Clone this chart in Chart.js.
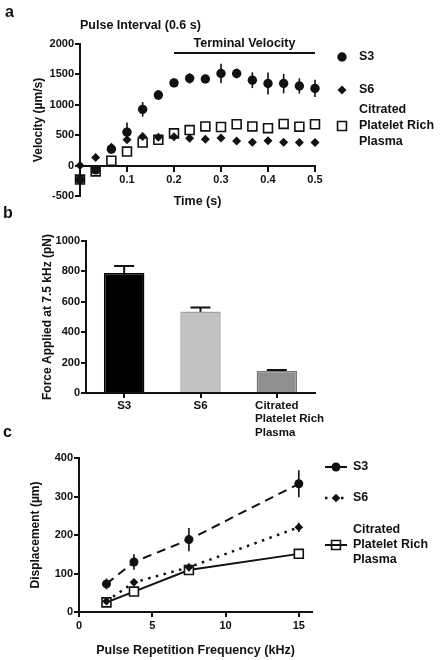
<!DOCTYPE html>
<html>
<head>
<meta charset="utf-8">
<script src="https://cdn.jsdelivr.net/npm/chart.js@4.4.0/dist/chart.umd.min.js"></script>
<style>
  html, body { margin: 0; padding: 0; background: #fff; }
  #wrap { position: relative; width: 447px; height: 660px; overflow: hidden; font-family: 'Liberation Sans', Arial, sans-serif; }
  #wrap canvas { position: absolute; left: 0; }
  .panel { position: absolute; font-weight: bold; font-size: 16px; line-height: 16px; color: #111; }
</style>
</head>
<body>
<div id="wrap">
  <canvas id="chartA" width="447" height="212" style="top:0"></canvas>
  <canvas id="chartB" width="447" height="228" style="top:212px"></canvas>
  <canvas id="chartC" width="447" height="220" style="top:440px"></canvas>
  <div class="panel" style="left:5px;top:4px">a</div>
  <div class="panel" style="left:3px;top:205px">b</div>
  <div class="panel" style="left:3px;top:424px">c</div>
</div>
<script>
const FONT = "'Liberation Sans', Arial, Helvetica, sans-serif";
const INK = '#111';
Chart.defaults.font.family = FONT;
Chart.defaults.color = INK;
Chart.defaults.animation = false;

// --- panel a: velocity during one pulse interval ---
const timeS = [0, 0.0333, 0.0667, 0.1, 0.1333, 0.1667, 0.2, 0.2333, 0.2667, 0.3, 0.3333, 0.3667, 0.4, 0.4333, 0.4667, 0.5];
const velS3 = [-230, -70, 270, 550, 925, 1160, 1360, 1435, 1425, 1515, 1515, 1405, 1350, 1350, 1310, 1270];
const velS3Err = [20, 30, 50, 160, 120, 80, 70, 85, 60, 160, 80, 130, 180, 160, 125, 140];
const velS6 = [0, 135, 300, 425, 480, 465, 475, 450, 435, 455, 405, 385, 410, 385, 380, 380];
const velCprp = [-230, -95, 80, 230, 380, 425, 530, 585, 645, 635, 680, 645, 615, 685, 640, 680];
const terminalSpan = [0.2, 0.5];
const terminalLevel = 1850;

// --- panel b: force at 7.5 kHz ---
const forceLabels = ['S3', 'S6', ['Citrated', 'Platelet Rich', 'Plasma']];
const forceMean = [790, 537, 145];
const forceErr = [45, 25, 6];

// --- panel c: displacement vs PRF ---
const prfKHz = [1.875, 3.75, 7.5, 15];
const dispS3 = [73, 130, 188, 333];
const dispS3Err = [14, 20, 30, 35];
const dispS6 = [28, 77, 116, 220];
const dispS6Err = [6, 6, 8, 12];
const dispCprp = [25, 53, 109, 151];

const seriesNames = ['S3', 'S6', 'Citrated Platelet Rich Plasma'];
const legendLines = [['S3'], ['S6'], ['Citrated', 'Platelet Rich', 'Plasma']];

const xy = (xs, ys) => xs.map((x, i) => ({ x, y: ys[i] }));
const tickFont = { family: FONT, size: 11, weight: 'bold' };
const titleFont = size => ({ family: FONT, size, weight: 'bold', lineHeight: 1.2 });
const border = { display: true, color: INK, width: 2 };
const tickGrid = { drawOnChartArea: false, drawTicks: true, tickLength: 5, color: INK, lineWidth: 2 };
const plain = v => String(v);

// error bars drawn under the marks, optional cap on the upper end
const errorBars = {
  id: 'errorBars',
  beforeDatasetsDraw(chart, args, opts) {
    const { ctx } = chart;
    chart.data.datasets.forEach((ds, i) => {
      if (!ds.errors) return;
      const meta = chart.getDatasetMeta(i);
      const ys = chart.scales[meta.yAxisID];
      ctx.save();
      ctx.strokeStyle = INK;
      ctx.lineWidth = opts.width || 1.5;
      meta.data.forEach((el, j) => {
        const raw = ds.data[j];
        const v = typeof raw === 'object' ? raw.y : raw;
        const top = ys.getPixelForValue(v + ds.errors[j]);
        const bot = ys.getPixelForValue(v - ds.errors[j]);
        ctx.beginPath();
        ctx.moveTo(el.x, top);
        ctx.lineTo(el.x, bot);
        if (opts.cap) { ctx.moveTo(el.x - opts.cap, top); ctx.lineTo(el.x + opts.cap, top); }
        ctx.stroke();
      });
      ctx.restore();
    });
  }
};

// legend placed beside the plot, Prism style
const sideLegend = {
  id: 'sideLegend',
  afterDraw(chart, args, opts) {
    const { ctx } = chart;
    ctx.save();
    ctx.font = `bold ${opts.fontSize}px ${FONT}`;
    ctx.textBaseline = 'middle';
    ctx.textAlign = 'left';
    opts.rows.forEach(row => {
      const ds = chart.data.datasets[row.dataset];
      const lines = legendLines[row.dataset];
      ctx.fillStyle = ds.pointBackgroundColor;
      ctx.strokeStyle = INK;
      ctx.lineWidth = ds.pointBorderWidth;
      Chart.helpers.drawPoint(ctx, { pointStyle: ds.pointStyle, radius: ds.pointRadius, rotation: 0, borderWidth: ds.pointBorderWidth }, opts.markerX, row.y);
      // the sample line runs through the marker
      if (opts.lineHalf) {
        ctx.lineWidth = ds.borderWidth;
        ctx.setLineDash(ds.borderDash || []);
        ctx.beginPath();
        ctx.moveTo(opts.markerX - opts.lineHalf, row.y);
        ctx.lineTo(opts.markerX + opts.lineHalf, row.y);
        ctx.stroke();
        ctx.setLineDash([]);
      }
      ctx.fillStyle = INK;
      lines.forEach((t, k) => ctx.fillText(t, opts.textX, row.y + (k - (lines.length - 1) / 2) * opts.lineGap));
    });
    ctx.restore();
  }
};

// "Terminal Velocity" bar over part of the time axis
const spanMarker = {
  id: 'spanMarker',
  afterDatasetsDraw(chart, args, opts) {
    const { ctx, scales: { x, y } } = chart;
    const x0 = x.getPixelForValue(opts.from), x1 = x.getPixelForValue(opts.to);
    const yy = y.getPixelForValue(opts.level);
    ctx.save();
    ctx.strokeStyle = INK;
    ctx.lineWidth = 2;
    ctx.beginPath();
    ctx.moveTo(x0, yy);
    ctx.lineTo(x1, yy);
    ctx.stroke();
    ctx.font = `bold 12.5px ${FONT}`;
    ctx.fillStyle = INK;
    ctx.textAlign = 'center';
    ctx.textBaseline = 'middle';
    ctx.fillText(opts.text, (x0 + x1) / 2, yy - opts.gap);
    ctx.restore();
  }
};

// category labels: first line centred on the tick, the rest left-aligned under it
const blockLabels = {
  id: 'blockLabels',
  afterDraw(chart, args, opts) {
    const { ctx, chartArea } = chart;
    const xs = chart.scales.x;
    ctx.save();
    ctx.font = `bold ${opts.fontSize}px ${FONT}`;
    ctx.fillStyle = INK;
    ctx.textBaseline = 'middle';
    ctx.textAlign = 'left';
    chart.data.labels.forEach((lbl, i) => {
      const lines = [].concat(lbl);
      const left = xs.getPixelForTick(i) - ctx.measureText(lines[0]).width / 2;
      lines.forEach((t, k) => ctx.fillText(t, left, chartArea.bottom + opts.offset + k * opts.lineGap));
    });
    ctx.restore();
  }
};

// ---------- a ----------
new Chart(document.getElementById('chartA'), {
  type: 'scatter',
  data: {
    datasets: [
      { label: seriesNames[0], data: xy(timeS, velS3), errors: velS3Err, clip: false,
        pointStyle: 'circle', pointRadius: 4.7, pointBackgroundColor: INK, pointBorderColor: INK, pointBorderWidth: 0 },
      { label: seriesNames[1], data: xy(timeS, velS6), clip: false,
        pointStyle: 'rectRot', pointRadius: 4.5, pointBackgroundColor: INK, pointBorderColor: INK, pointBorderWidth: 0 },
      { label: seriesNames[2], data: xy(timeS, velCprp), clip: false,
        pointStyle: 'rect', pointRadius: 6.3, pointBackgroundColor: '#fff', pointBorderColor: INK, pointBorderWidth: 1.6 }
    ]
  },
  options: {
    responsive: false,
    devicePixelRatio: 1,
    layout: { padding: { left: 31, right: 132, top: 14, bottom: 2 } },
    plugins: {
      legend: { display: false },
      tooltip: { enabled: false },
      title: { display: true, text: 'Pulse Interval (0.6 s)', align: 'start', fullSize: false,
        font: titleFont(12.5), color: INK, padding: { top: 4, bottom: 11 } },
      errorBars: { width: 1.6 },
      sideLegend: { fontSize: 12.5, markerX: 342, textX: 359, lineGap: 16,
        rows: [{ dataset: 0, y: 57 }, { dataset: 1, y: 90 }, { dataset: 2, y: 126 }] },
      spanMarker: { from: terminalSpan[0], to: terminalSpan[1], level: terminalLevel, text: 'Terminal Velocity', gap: 10 }
    },
    scales: {
      x: {
        type: 'linear', min: 0, max: 0.5, position: { y: 0 },
        border, grid: tickGrid,
        ticks: { stepSize: 0.1, font: tickFont, color: INK, padding: 3, callback: v => (v === 0 ? '' : v.toFixed(1)) },
        afterFit: s => { s.height = 0; }
      },
      xTitle: {
        type: 'linear', position: 'bottom', min: 0, max: 1,
        border: { display: false }, grid: { display: false }, ticks: { display: false },
        title: { display: true, text: 'Time (s)', font: titleFont(12.5), color: INK, padding: { top: 0, bottom: 1 } },
        afterFit: s => { s.height = 14; }
      },
      y: {
        min: -500, max: 2000,
        border, grid: tickGrid,
        ticks: { stepSize: 500, font: tickFont, color: INK, padding: 1, callback: plain },
        title: { display: true, text: 'Velocity (µm/s)', font: titleFont(12), color: INK, padding: 0 },
        afterFit: s => { s.width = 49; }
      }
    }
  },
  plugins: [errorBars, sideLegend, spanMarker]
});

// ---------- b ----------
new Chart(document.getElementById('chartB'), {
  type: 'bar',
  data: {
    labels: forceLabels,
    datasets: [{
      label: 'Force',
      data: forceMean,
      errors: forceErr,
      backgroundColor: ['#000', '#c2c2c2', '#8f8f8f'],
      borderColor: ['#000', '#a3a3a3', '#7a7a7a'],
      borderWidth: 1.5,
      barPercentage: 0.53,
      categoryPercentage: 1
    }]
  },
  options: {
    responsive: false,
    devicePixelRatio: 1,
    layout: { padding: { left: 40, right: 132, top: 29, bottom: 37 } },
    plugins: {
      legend: { display: false },
      tooltip: { enabled: false },
      errorBars: { width: 2, cap: 10 },
      blockLabels: { fontSize: 11.5, offset: 12.5, lineGap: 13.7 }
    },
    scales: {
      x: {
        offset: true,
        border, grid: Object.assign({}, tickGrid, { offset: false }),
        ticks: { color: 'rgba(0,0,0,0)', font: tickFont },
        afterFit: s => { s.height = 10; }
      },
      y: {
        min: 0, max: 1000,
        border, grid: tickGrid,
        ticks: { stepSize: 200, font: tickFont, color: INK, padding: 1, callback: plain },
        title: { display: true, text: 'Force Applied at 7.5 kHz (pN)', font: titleFont(12), color: INK, padding: 0 },
        afterFit: s => { s.width = 46; }
      }
    }
  },
  plugins: [errorBars, blockLabels]
});

// ---------- c ----------
new Chart(document.getElementById('chartC'), {
  type: 'line',
  data: {
    datasets: [
      { label: seriesNames[0], data: xy(prfKHz, dispS3), errors: dispS3Err, clip: false,
        borderColor: INK, borderWidth: 2, borderDash: [9, 6],
        pointStyle: 'circle', pointRadius: 4.5, pointBackgroundColor: INK, pointBorderColor: INK, pointBorderWidth: 0 },
      { label: seriesNames[1], data: xy(prfKHz, dispS6), errors: dispS6Err, clip: false,
        borderColor: INK, borderWidth: 2.5, borderDash: [2.5, 5.5],
        pointStyle: 'rectRot', pointRadius: 4.3, pointBackgroundColor: INK, pointBorderColor: INK, pointBorderWidth: 0 },
      { label: seriesNames[2], data: xy(prfKHz, dispCprp), clip: false,
        borderColor: INK, borderWidth: 2,
        pointStyle: 'rect', pointRadius: 6.3, pointBackgroundColor: '#fff', pointBorderColor: INK, pointBorderWidth: 1.6 }
    ]
  },
  options: {
    responsive: false,
    devicePixelRatio: 1,
    layout: { padding: { left: 28, right: 135, top: 18, bottom: 0 } },
    plugins: {
      legend: { display: false },
      tooltip: { enabled: false },
      errorBars: { width: 1.6 },
      sideLegend: { fontSize: 12.5, markerX: 336, lineHalf: 11, textX: 353, lineGap: 15,
        rows: [{ dataset: 0, y: 27 }, { dataset: 1, y: 58 }, { dataset: 2, y: 105 }] }
    },
    scales: {
      x: {
        type: 'linear', min: 0, max: 15.9,
        border, grid: tickGrid,
        ticks: { stepSize: 5, includeBounds: false, font: tickFont, color: INK, padding: 2, callback: plain },
        title: { display: true, text: 'Pulse Repetition Frequency (kHz)', font: titleFont(12.5), color: INK, padding: { top: 0, bottom: 2 } },
        afterFit: s => { s.height = 48; }
      },
      y: {
        min: 0, max: 400,
        border, grid: tickGrid,
        ticks: { stepSize: 100, font: tickFont, color: INK, padding: 1, callback: plain },
        title: { display: true, text: 'Displacement (µm)', font: titleFont(12), color: INK, padding: 0 },
        afterFit: s => { s.width = 51; }
      }
    }
  },
  plugins: [errorBars, sideLegend]
});
</script>
</body>
</html>
